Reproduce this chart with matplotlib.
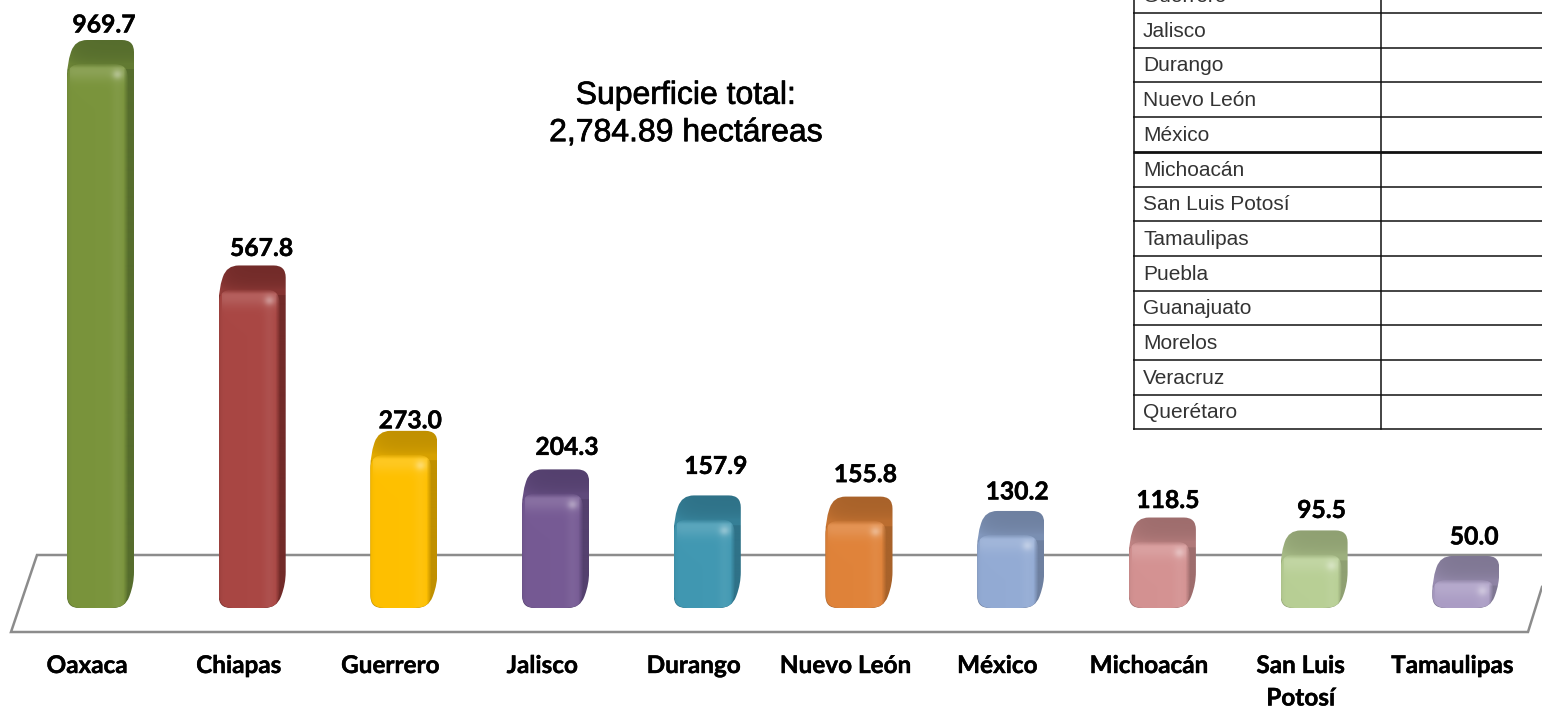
import numpy as np
import matplotlib
import matplotlib.pyplot as plt
import matplotlib.patheffects as pe
from matplotlib.path import Path
from matplotlib.patches import PathPatch
from matplotlib.colors import to_rgb

matplotlib.use('Agg')

# chart data
estados = ['Oaxaca', 'Chiapas', 'Guerrero', 'Jalisco', 'Durango', 'Nuevo León',
           'México', 'Michoacán', 'San Luis\nPotosí', 'Tamaulipas']
hectareas = [969.7, 567.8, 273.0, 204.3, 157.9, 155.8, 130.2, 118.5, 95.5, 50.0]
titulo = 'Superficie total:\n2,784.89 hectáreas'
tabla_estados = ['Guerrero', 'Jalisco', 'Durango', 'Nuevo León', 'México', 'Michoacán',
                 'San Luis Potosí', 'Tamaulipas', 'Puebla', 'Guanajuato', 'Morelos',
                 'Veracruz', 'Querétaro']

# styles
frente = ['#7A943C', '#A94744', '#FFC000', '#765A94', '#4198B2', '#E0833A',
          '#93ABD4', '#D49292', '#B8CF95', '#AA9CC4']
oscuro = ['#566D2D', '#722B29', '#C09000', '#54406E', '#2F7288', '#A8622A',
          '#6E80A0', '#9E6D6D', '#8FA072', '#7F7793']
etiqueta_dx = [17, 23, 20, 25, 22, 20, 20, 19, 21, 22]
etiqueta_dy = [15, 17, 10, 22, 29, 22, 19, 17, 20, 19]

W, H = 1542, 707
PX_CAT = 151.7     # pixels per category
PX_VAL = 0.561     # pixels per hectare
X0, Y0 = 87, 608   # pixel position of first category and of the baseline
ANCHO, FONDO = 61, 24
GRIS = '#8C8C8C'
NEGRITA = [pe.withStroke(linewidth=0.3, foreground='black')]


def rounded_path(points, r):
    verts, codes = [], []
    n = len(points)
    for k in range(n):
        p = np.array(points[k], float)
        a = np.array(points[k - 1], float)
        b = np.array(points[(k + 1) % n], float)
        ra = min(r, np.linalg.norm(a - p) / 2)
        rb = min(r, np.linalg.norm(b - p) / 2)
        p1 = p + (a - p) / np.linalg.norm(a - p) * ra
        p2 = p + (b - p) / np.linalg.norm(b - p) * rb
        verts += [p1, p, p2]
        codes += [Path.LINETO if k else Path.MOVETO, Path.CURVE3, Path.CURVE3]
    verts.append(verts[0])
    codes.append(Path.CLOSEPOLY)
    return np.array(verts), codes


def to_data(verts, i):
    # offsets in pixels from the bar's lower left corner -> data units
    return np.column_stack([i + (verts[:, 0] - 20) / PX_CAT, verts[:, 1] / PX_VAL])


def mix(c, other, t):
    return c + (other - c) * t[..., None]


def draw_bar(ax, i, v, c_front, c_dark):
    h = v * PX_VAL
    c = np.array(to_rgb(c_front))
    d = np.array(to_rgb(c_dark))
    white = np.ones(3)

    # dark block: top face and side
    pts = [(0, 0), (58, 0), (67, FONDO), (67, h + FONDO), (8, h + FONDO), (0, h)]
    v1, cod = rounded_path(pts, 12)
    clip = PathPatch(Path(to_data(v1, i), cod), fc='none', ec='none', transform=ax.transData)
    ax.add_patch(clip)
    rows = max(int(h + FONDO), 2)
    yy, xx = np.mgrid[0:rows, 0:67]
    t = 0.35 * np.exp(-(FONDO - yy).clip(0) / 7.0) * (yy < FONDO + 6)
    t = t + 0.30 * np.exp(-xx / 8.0) * (yy < FONDO + 10)
    img = mix(np.tile(d, (rows, 67, 1)), c, t.clip(0, 1))
    im = ax.imshow(img, extent=(i - 20 / PX_CAT, i + 47 / PX_CAT, 0, (h + FONDO) / PX_VAL),
                   aspect='auto', interpolation='bilinear', zorder=2)
    im.set_clip_path(clip)

    # front face with its bevel, its top and right edges fade into the block
    pts = [(0, 0), (56, 0), (ANCHO, 12), (ANCHO, h), (0, h)]
    v2, cod = rounded_path(pts, 14)
    clip2 = PathPatch(Path(to_data(v2, i), cod), fc='none', ec='none', transform=ax.transData)
    ax.add_patch(clip2)
    rows = max(int(h), 2)
    yy, xx = np.mgrid[0:rows, 0:ANCHO]
    img = np.tile(c, (rows, ANCHO, 1))
    img = mix(img, white, 0.05 * np.exp(-((xx - 50) / 6.0) ** 2))
    img = mix(img, white, 0.13 * np.exp(-((yy - 7) / 10.0) ** 2) * (xx > 2))
    img = mix(img, white, 0.30 * np.exp(-((xx - 50) / 5.0) ** 2 - ((yy - 11) / 4.5) ** 2))
    img = mix(img, d, 0.25 * np.exp(-xx / 2.0))
    alpha = np.minimum(((yy + 0.5) / 5.0).clip(0, 1), ((ANCHO - xx) / 5.0).clip(0, 1))
    rgba = np.dstack([img, alpha])
    im = ax.imshow(rgba, extent=(i - 20 / PX_CAT, i + (ANCHO - 20) / PX_CAT, 0, h / PX_VAL),
                   aspect='auto', interpolation='bilinear', zorder=3)
    im.set_clip_path(clip2)


fig = plt.figure(figsize=(W / 100, H / 100), dpi=100, facecolor='white')

# pixel axes: floor, title and table
ax_px = fig.add_axes([0, 0, 1, 1], zorder=0)
ax_px.set_xlim(0, W)
ax_px.set_ylim(H, 0)
ax_px.axis('off')

ax_px.plot([1542, 37, 11, 1528, 1542], [555, 555, 632, 632, 587], color=GRIS, lw=1.8,
           solid_joinstyle='miter')

ax_px.text(686, 114.5, titulo, ha='center', va='center', fontsize=23, linespacing=1.32,
           family='Liberation Sans', color='black',
           path_effects=[pe.withStroke(linewidth=0.5, foreground='black')])

# table, the first row is cut by the top of the image
fila = 34.7
for n, nombre in enumerate(tabla_estados):
    y = -4.5 + n * fila
    ax_px.text(1143, y + 1, nombre, ha='left', va='center', fontsize=15,
               family='Liberation Sans', color='#333333')
    lw = 2.0 if nombre == 'México' else 1.1
    ax_px.plot([1133, W], [y + 17.5, y + 17.5], color='#111111', lw=lw, solid_capstyle='butt')
y_fin = -4.5 + (len(tabla_estados) - 1) * fila + 17.5
ax_px.plot([1133.5, 1133.5], [0, y_fin], color='#111111', lw=1.1)
ax_px.plot([1381, 1381], [0, y_fin], color='#111111', lw=1.1)

# bars axes: categories on x, hectares on y
ax = fig.add_axes([0, 0, 1, 1], zorder=1)
ax.patch.set_alpha(0)
for i, v in enumerate(hectareas):
    draw_bar(ax, i, v, frente[i], oscuro[i])
    ax.annotate(f'{v:.1f}', (i, v + FONDO / PX_VAL), xytext=(etiqueta_dx[i], etiqueta_dy[i]),
                textcoords='offset pixels', ha='center', va='center', fontsize=17.8,
                fontweight='bold', family='Lato', color='black', zorder=5, path_effects=NEGRITA)
    ax.annotate(estados[i], (i, 0), xytext=(0, -46), textcoords='offset pixels',
                ha='center', va='top', fontsize=17.5, fontweight='bold', family='Lato',
                color='black', linespacing=1.5, annotation_clip=False, path_effects=NEGRITA)
ax.set_xlim(-X0 / PX_CAT, (W - X0) / PX_CAT)
ax.set_ylim((Y0 - H) / PX_VAL, Y0 / PX_VAL)
ax.axis('off')

fig.savefig('out.png', dpi=100)
